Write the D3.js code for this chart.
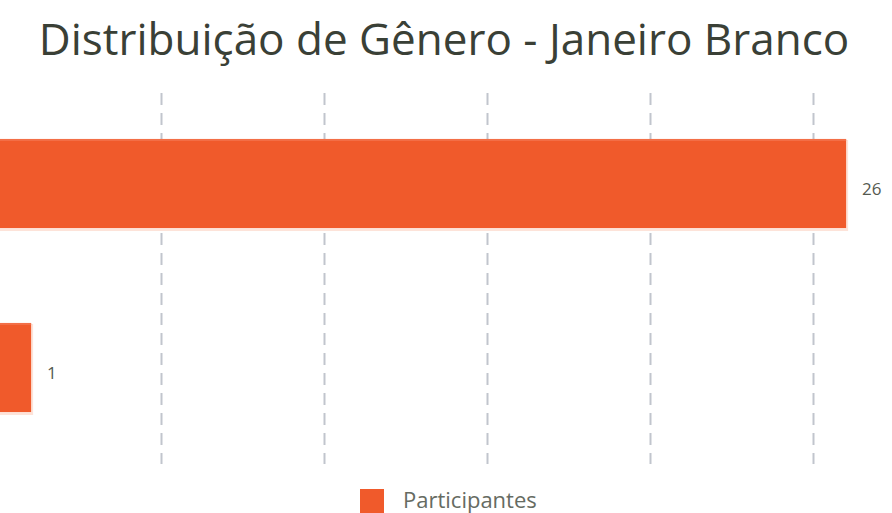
<!DOCTYPE html>
<html>
<head>
<meta charset="utf-8">
<script src="https://cdn.jsdelivr.net/npm/d3@7"></script>
<style>
  body { margin: 0; background: #fff; }
  svg { display: block; }
</style>
</head>
<body>
<svg id="chart"></svg>
<script>
// data
const categories = ["Feminino", "Masculino"];
const participantes = [26, 1];
const xTicks = [0, 5, 10, 15, 20, 25];
const title = "Distribuição de Gênero - Janeiro Branco";
const legendLabel = "Participantes";

const width = 892, height = 513;
const barColor = "#f05a2b";

const svg = d3.select("#chart")
    .attr("width", width)
    .attr("height", height);

// plot area is cropped on the left, zero sits just off the edge
const xScale = d3.scaleLinear()
    .domain([0, 25])
    .range([-1.5, 813.5]);

const yScale = d3.scaleBand()
    .domain(categories)
    .range([91.5, 459.5])
    .paddingInner(0.516)
    .paddingOuter(0.258);

// title
svg.append("text")
    .attr("x", 444)
    .attr("y", 55)
    .attr("text-anchor", "middle")
    .attr("font-family", "Open Sans, sans-serif")
    .attr("font-size", "44px")
    .attr("fill", "#3a4036")
    .text(title);

// dashed vertical grid
svg.append("g")
    .selectAll("line")
    .data(xTicks)
    .join("line")
    .attr("x1", d => xScale(d))
    .attr("x2", d => xScale(d))
    .attr("y1", 93)
    .attr("y2", 464)
    .attr("stroke", "#c1c5cd")
    .attr("stroke-width", 2)
    .attr("stroke-dasharray", "12,8");

const data = categories.map((c, i) => ({ key: c, value: participantes[i] }));

// faint shadow behind the bars
svg.append("g")
    .selectAll("rect")
    .data(data)
    .join("rect")
    .attr("x", xScale(0))
    .attr("y", d => yScale(d.key) + 1)
    .attr("width", d => xScale(d.value) - xScale(0) + 2)
    .attr("height", yScale.bandwidth() + 2)
    .attr("fill", "#fde3d9");

// bars
svg.append("g")
    .selectAll("rect")
    .data(data)
    .join("rect")
    .attr("x", xScale(0))
    .attr("y", d => yScale(d.key))
    .attr("width", d => xScale(d.value) - xScale(0))
    .attr("height", yScale.bandwidth())
    .attr("fill", barColor);

// light top edge
svg.append("g")
    .selectAll("rect")
    .data(data)
    .join("rect")
    .attr("x", xScale(0))
    .attr("y", d => yScale(d.key))
    .attr("width", d => xScale(d.value) - xScale(0))
    .attr("height", 2)
    .attr("fill", "#f36f47");

// value labels
svg.append("g")
    .selectAll("text")
    .data(data)
    .join("text")
    .attr("x", d => xScale(d.value) + 16)
    .attr("y", d => yScale(d.key) + yScale.bandwidth() / 2 + 11)
    .attr("font-family", "Open Sans, sans-serif")
    .attr("font-size", "17px")
    .attr("fill", "#555a50")
    .text(d => d.value);

// legend
const legend = svg.append("g");
legend.append("rect")
    .attr("x", 360)
    .attr("y", 489)
    .attr("width", 24)
    .attr("height", 24)
    .attr("fill", barColor);
legend.append("text")
    .attr("x", 403)
    .attr("y", 508)
    .attr("font-family", "Open Sans, sans-serif")
    .attr("font-size", "22px")
    .attr("fill", "#666b62")
    .text(legendLabel);
</script>
</body>
</html>
